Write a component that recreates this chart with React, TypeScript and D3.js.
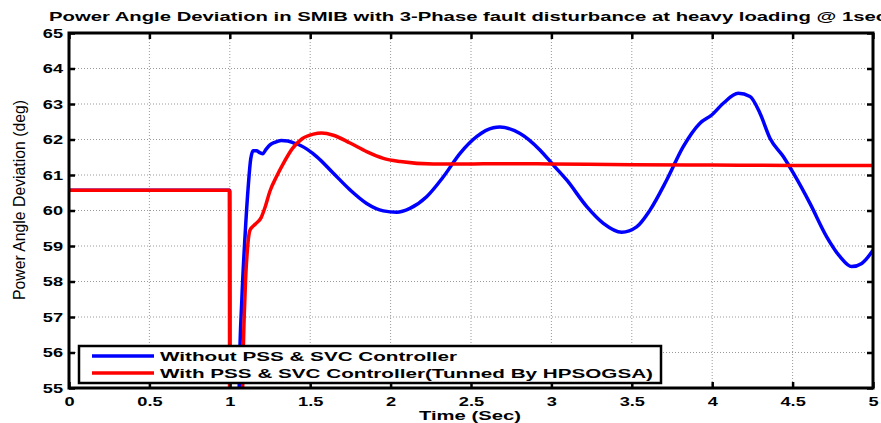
import { useEffect, useRef } from 'react';
import * as d3 from 'd3';

// Without PSS & SVC (blue) - time (s) and angle (deg)
const blueT = [
  0, 1.0, 1.002, 1.045, 1.06, 1.075, 1.095, 1.115, 1.13, 1.145, 1.165, 1.19, 1.205, 1.225,
  1.25, 1.28, 1.32, 1.36, 1.4, 1.44, 1.54, 1.644, 1.748, 1.851, 1.955, 2.038, 2.12, 2.224,
  2.328, 2.432, 2.535, 2.639, 2.68, 2.805, 2.93, 3.012, 3.095, 3.22, 3.323, 3.437, 3.53,
  3.613, 3.717, 3.82, 3.924, 3.997, 4.069, 4.162, 4.235, 4.297, 4.36, 4.442, 4.505, 4.608,
  4.712, 4.795, 4.867, 4.93, 5.0
];
const blueV = [
  60.57, 60.57, 50, 50, 55.5, 57.5, 59.3, 60.7, 61.45, 61.68, 61.68, 61.62, 61.6, 61.72,
  61.85, 61.92, 61.97, 61.96, 61.9, 61.83, 61.52, 61.05, 60.58, 60.2, 59.99, 59.95, 60.06,
  60.39, 60.95, 61.61, 62.08, 62.33, 62.35, 62.17, 61.7, 61.28, 60.86, 60.11, 59.64, 59.39,
  59.54, 60.01, 60.86, 61.8, 62.46, 62.69, 63.02, 63.3, 63.21, 62.74, 62.03, 61.52, 61.05,
  60.2, 59.26, 58.7, 58.42, 58.51, 58.88
];

// With PSS & SVC (red)
const redT = [
  0, 0.997, 1.0, 1.07, 1.08, 1.095, 1.113, 1.126, 1.16, 1.195, 1.22, 1.25, 1.29, 1.33, 1.39,
  1.45, 1.52, 1.57, 1.644, 1.748, 1.851, 1.955, 2.06, 2.266, 2.473, 2.68, 3.0, 3.5, 4.0, 4.5, 5.0
];
const redV = [
  60.57, 60.57, 50, 50, 54.94, 57.68, 59.08, 59.45, 59.62, 59.8, 60.1, 60.55, 60.95, 61.3,
  61.75, 62.02, 62.15, 62.18, 62.12, 61.9, 61.66, 61.47, 61.38, 61.31, 61.31, 61.32, 61.31,
  61.29, 61.28, 61.27, 61.27
];

const xTicks = [0, 0.5, 1, 1.5, 2, 2.5, 3, 3.5, 4, 4.5, 5];
const yTicks = [55, 56, 57, 58, 59, 60, 61, 62, 63, 64, 65];

const legendLabels = [
  'Without PSS & SVC Controller',
  'With PSS & SVC Controller(Tunned By HPSOGSA)'
];
const title = 'Power Angle Deviation in SMIB with 3-Phase fault disturbance at heavy loading @ 1sec';

const FONT = '"Liberation Sans", Arial, Helvetica, sans-serif';

export default function App() {
  const svgRef = useRef<SVGSVGElement>(null);

  useEffect(() => {
    if (!svgRef.current) return;
    const svg = d3.select(svgRef.current);
    svg.selectAll('*').remove();

    const left = 69;
    const right = 873;
    const top = 33;
    const bottom = 388;

    const x = d3.scaleLinear().domain([0, 5]).range([left, right]);
    const y = d3.scaleLinear().domain([55, 65]).range([bottom, top]);

    svg.append('rect').attr('width', 881).attr('height', 423).attr('fill', '#fff');

    // grid
    const grid = svg.append('g').attr('stroke', '#9a9a9a').attr('stroke-width', 1).attr('stroke-dasharray', '1,2');
    xTicks.slice(1, -1).forEach((t) => {
      grid.append('line').attr('x1', x(t)).attr('x2', x(t)).attr('y1', top).attr('y2', bottom);
    });
    yTicks.slice(1, -1).forEach((v) => {
      grid.append('line').attr('x1', left).attr('x2', right).attr('y1', y(v)).attr('y2', y(v));
    });

    // lines
    svg
      .append('defs')
      .append('clipPath')
      .attr('id', 'plotclip')
      .append('rect')
      .attr('x', left)
      .attr('y', top)
      .attr('width', right - left)
      .attr('height', bottom - top);

    const line = d3
      .line<[number, number]>()
      .x((d) => x(d[0]))
      .y((d) => y(d[1]))
      .curve(d3.curveMonotoneX);

    const blueData = blueT.map((t, i) => [t, blueV[i]] as [number, number]);
    const redData = redT.map((t, i) => [t, redV[i]] as [number, number]);

    const plot = svg.append('g').attr('clip-path', 'url(#plotclip)');
    plot
      .append('path')
      .datum(blueData)
      .attr('fill', 'none')
      .attr('stroke', '#0000ff')
      .attr('stroke-width', 3.5)
      .attr('stroke-linejoin', 'round')
      .attr('d', line);
    plot
      .append('path')
      .datum(redData)
      .attr('fill', 'none')
      .attr('stroke', '#ff0000')
      .attr('stroke-width', 3.5)
      .attr('stroke-linejoin', 'round')
      .attr('d', line);

    // axes (ticks pointing inward)
    const styleAxis = (g: d3.Selection<SVGGElement, unknown, null, undefined>) => {
      g.select('.domain').remove();
      g.selectAll('.tick line').attr('stroke', '#000').attr('stroke-width', 2.5);
      g.selectAll('.tick text')
        .attr('fill', '#000')
        .attr('font-family', FONT)
        .attr('font-weight', 'bold')
        .attr('font-size', 13.5)
        .attr('transform', 'scale(1.35,1)');
    };

    svg
      .append('g')
      .attr('transform', `translate(0,${bottom})`)
      .call(d3.axisBottom(x).tickValues(xTicks).tickSize(-6).tickPadding(8.5).tickFormat(d3.format('')))
      .call(styleAxis);
    svg
      .append('g')
      .attr('transform', `translate(0,${top})`)
      .call(d3.axisTop(x).tickValues(xTicks).tickSize(-6).tickFormat(() => ''))
      .call(styleAxis);
    svg
      .append('g')
      .attr('transform', `translate(${left},0)`)
      .call(d3.axisLeft(y).tickValues(yTicks).tickSize(-6).tickPadding(4.4).tickFormat(d3.format('d')))
      .call(styleAxis);
    svg
      .append('g')
      .attr('transform', `translate(${right},0)`)
      .call(d3.axisRight(y).tickValues(yTicks).tickSize(-6).tickFormat(() => ''))
      .call(styleAxis);

    // frame
    svg
      .append('rect')
      .attr('x', left)
      .attr('y', top)
      .attr('width', right - left)
      .attr('height', bottom - top)
      .attr('fill', 'none')
      .attr('stroke', '#000')
      .attr('stroke-width', 3);

    // legend
    const lg = svg.append('g');
    lg.append('rect')
      .attr('x', 79)
      .attr('y', 346)
      .attr('width', 582)
      .attr('height', 37)
      .attr('fill', '#fff')
      .attr('stroke', '#000')
      .attr('stroke-width', 2.5);
    const legendColors = ['#0000ff', '#ff0000'];
    legendLabels.forEach((label, i) => {
      const ly = 356 + i * 17;
      lg.append('line')
        .attr('x1', 92)
        .attr('x2', 154)
        .attr('y1', ly)
        .attr('y2', ly)
        .attr('stroke', legendColors[i])
        .attr('stroke-width', 3.5);
      lg.append('text')
        .attr('x', 160)
        .attr('y', ly + 5)
        .attr('font-family', FONT)
        .attr('font-weight', 'bold')
        .attr('font-size', 12.5)
        .attr('textLength', i === 0 ? 297 : 493)
        .attr('lengthAdjust', 'spacingAndGlyphs')
        .text(label);
    });

    // title and axis labels
    svg
      .append('text')
      .attr('x', 49)
      .attr('y', 21)
      .attr('font-family', FONT)
      .attr('font-weight', 'bold')
      .attr('font-size', 13)
      .attr('textLength', 838)
      .attr('lengthAdjust', 'spacingAndGlyphs')
      .text(title);

    svg
      .append('text')
      .attr('x', 470)
      .attr('y', 420)
      .attr('text-anchor', 'middle')
      .attr('font-family', FONT)
      .attr('font-weight', 'bold')
      .attr('font-size', 13)
      .attr('textLength', 102)
      .attr('lengthAdjust', 'spacingAndGlyphs')
      .text('Time (Sec)');

    svg
      .append('text')
      .attr('transform', 'translate(19,200) scale(1.25,1) rotate(-90)')
      .attr('text-anchor', 'middle')
      .attr('dominant-baseline', 'central')
      .attr('font-family', FONT)
      .attr('font-size', 12.5)
      .attr('textLength', 200)
      .attr('lengthAdjust', 'spacingAndGlyphs')
      .text('Power Angle Deviation (deg)');
  }, []);

  return (
    <svg
      ref={svgRef}
      width={881}
      height={423}
      style={{ position: 'absolute', left: 0, top: 0, display: 'block' }}
    />
  );
}
